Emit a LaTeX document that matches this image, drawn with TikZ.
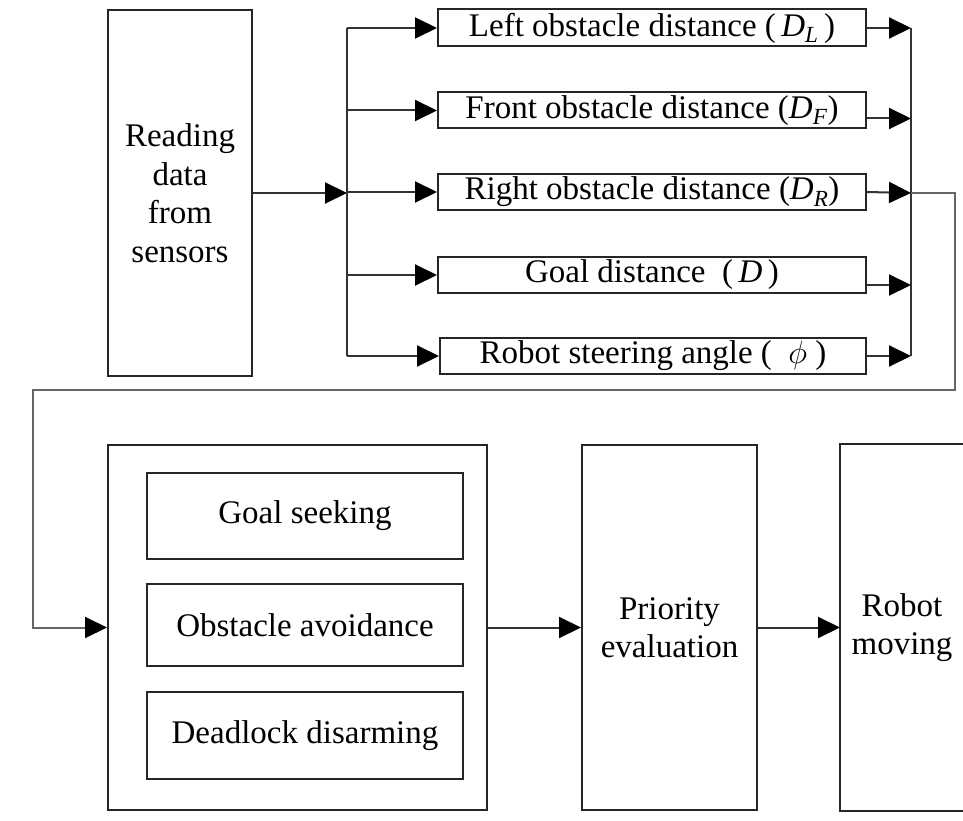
\documentclass[tikz,border=0pt]{standalone}
\usepackage{fontspec}
\setmainfont{Liberation Serif}
\usetikzlibrary{arrows.meta,calc}
\begin{document}
\begin{tikzpicture}[x=1pt,y=-1pt,
  box/.style={draw=black!85,line width=2pt,inner sep=0pt,font=\fontsize{33}{38.5}\selectfont,align=center},
  plain/.style={box,draw=none},
  conn/.style={draw=black!80,line width=2pt},
  arr/.style={conn,-{Triangle[length=22pt,width=21pt,fill=black,color=black]}},
]
\useasboundingbox (0,0) rectangle (963,821);
% reading box
\node[box,minimum width=144pt,minimum height=366pt] (read) at (180,193) {Reading\\data\\from\\sensors};
% sensor boxes
\node[box,minimum width=428pt,minimum height=37pt] (b1) at (652,28) {Left obstacle distance (\,\textit{D}\textsubscript{\textit{L}}\,)};
\node[box,minimum width=428pt,minimum height=36pt] (b2) at (652,110.5) {Front obstacle distance (\textit{D}\textsubscript{\textit{F}})};
\node[box,minimum width=428pt,minimum height=36pt] (b3) at (652,192) {Right obstacle distance (\textit{D}\textsubscript{\textit{R}})};
\node[box,minimum width=428pt,minimum height=36pt] (b4) at (652,275) {Goal distance\ \ (\,\textit{D}\,)};
\node[box,minimum width=426pt,minimum height=36pt] (b5) at (653,356) {Robot steering angle (\ \ \scalebox{1.3}{$\phi$}\ )};
% split
\coordinate (split) at (347,193);
\draw[arr] (read) -- (split);
\draw[conn] (split |- b1) -- (split |- b5);
\foreach \b in {b1,b2,b3,b4,b5} \draw[arr] (split |- \b) -- (\b.west);
% merge
\coordinate (merge) at (911,193);
\draw[conn] (merge |- b1) -- (merge |- b5);
\draw[arr] (b1.east) -- (b1.east -| merge);
\draw[arr] ([yshift=-8pt]b2.east) -- ([yshift=-8pt]b2.east -| merge);
\draw[arr] (b3.east) -- (merge);
\draw[arr] ([yshift=-10pt]b4.east) -- ([yshift=-10pt]b4.east -| merge);
\draw[arr] (b5.east) -- (b5.east -| merge);
% behaviour block
\node[box,minimum width=379pt,minimum height=365pt] (big) at (297.5,627.5) {};
\node[box,minimum width=316pt,minimum height=86pt] (g1) at (305,516) {Goal seeking};
\node[box,minimum width=316pt,minimum height=82pt] (g2) at (305,625) {Obstacle avoidance};
\node[box,minimum width=316pt,minimum height=87pt] (g3) at (305,735.5) {Deadlock disarming};
% loop connector
\draw[arr,draw=black!60] (merge) -- (955,193) |- (33,390) |- (big.west);
% priority and robot
\node[box,minimum width=175pt,minimum height=365pt] (prio) at (669.5,627.5) {Priority\\evaluation};
\node[plain,minimum width=122pt,minimum height=365pt] (robot) at (902,627.5) {Robot\\moving};
\draw[draw=black!85,line width=2pt] (robot.north east) -- (robot.north west) -- (robot.south west) -- (robot.south east);
\draw[arr] (big) -- (prio);
\draw[arr] (prio) -- (robot);
\end{tikzpicture}
\end{document}
